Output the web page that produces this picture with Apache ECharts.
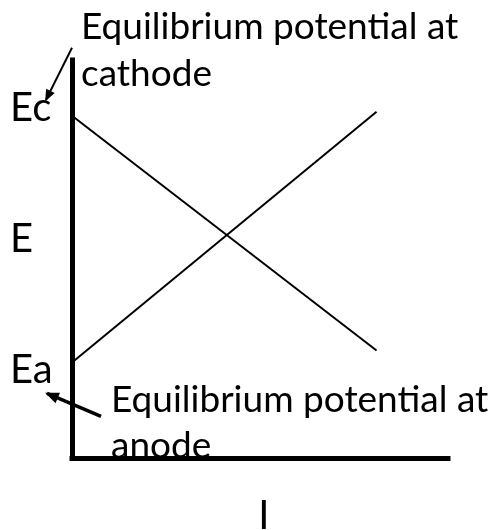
<!DOCTYPE html>
<html>
<head>
<meta charset="utf-8">
<script src="https://cdn.jsdelivr.net/npm/echarts@6/dist/echarts.min.js"></script>
<style>
  html, body { margin: 0; padding: 0; background: #fff; }
  #chart { width: 496px; height: 530px; }
</style>
</head>
<body>
<div id="chart"></div>
<script>
// Current (I) positions where each polarisation line starts and ends
const currentPoints = [0, 81];
// Cathodic line: falls from the cathode equilibrium potential
const cathodeLine = [86, 27];
// Anodic line: rises from the anode equilibrium potential
const anodeLine = [24, 87];
// Potential axis labels and their positions
const potentialTicks = [22, 55, 88];
const potentialLabels = ['Ea', 'E', 'Ec'];
// Current axis label
const currentTick = [51];
const currentLabel = 'I';
// Annotation texts
const cathodeNote = 'Equilibrium potential at\ncathode';
const anodeNote = 'Equilibrium potential at\nanode';

const FONT = 'Lato, "Open Sans", sans-serif';
const chart = echarts.init(document.getElementById('chart'), null, { renderer: 'canvas' });

const option = {
  animation: false,
  backgroundColor: '#fff',
  grid: { left: 72, right: 48, top: 60, bottom: 72, containLabel: false, outerBoundsMode: 'none' },
  xAxis: {
    type: 'value', min: 0, max: 100,
    axisLine: { show: true, lineStyle: { color: '#000', width: 5, cap: 'square' } },
    axisTick: { show: false },
    splitLine: { show: false },
    axisLabel: {
      customValues: currentTick,
      formatter: () => currentLabel,
      fontFamily: FONT, fontSize: 40, color: '#000', margin: 38
    }
  },
  yAxis: {
    type: 'value', min: 0, max: 100,
    axisLine: { show: true, lineStyle: { color: '#000', width: 5, cap: 'square' } },
    axisTick: { show: false },
    splitLine: { show: false },
    axisLabel: {
      customValues: potentialTicks,
      formatter: v => potentialLabels[potentialTicks.indexOf(v)],
      fontFamily: FONT, fontSize: 40, color: '#000', margin: 62, align: 'left'
    }
  },
  series: [
    {
      type: 'line', showSymbol: false, silent: true,
      lineStyle: { color: '#000', width: 2 },
      data: currentPoints.map((x, i) => [x, cathodeLine[i]])
    },
    {
      type: 'line', showSymbol: false, silent: true,
      lineStyle: { color: '#000', width: 2 },
      data: currentPoints.map((x, i) => [x, anodeLine[i]])
    }
  ]
};
chart.setOption(option);

// Annotations with arrows pointing at the equilibrium potential labels
const ecY = chart.convertToPixel({ yAxisIndex: 0 }, cathodeLine[0]);
const eaY = chart.convertToPixel({ yAxisIndex: 0 }, anodeLine[0]);

function arrow(x1, y1, x2, y2, w, head) {
  const ang = Math.atan2(y2 - y1, x2 - x1);
  const a1 = ang + Math.PI - 0.45, a2 = ang + Math.PI + 0.45;
  return [
    { type: 'line', shape: { x1, y1, x2, y2 }, style: { stroke: '#000', lineWidth: w } },
    { type: 'polygon', shape: { points: [
        [x2 + Math.cos(ang) * 2, y2 + Math.sin(ang) * 2],
        [x2 + Math.cos(a1) * head, y2 + Math.sin(a1) * head],
        [x2 + Math.cos(a2) * head, y2 + Math.sin(a2) * head]
      ] }, style: { fill: '#000' } }
  ];
}

chart.setOption({
  graphic: [
    { type: 'text', left: 81, top: 4, style: { text: cathodeNote, font: '37px ' + FONT, fill: '#000', lineHeight: 47 } },
    { type: 'text', left: 111, top: 377, style: { text: anodeNote, font: '37px ' + FONT, fill: '#000', lineHeight: 46 } },
    ...arrow(72, ecY - 68, 46, ecY - 16, 2, 11),
    ...arrow(101, eaY + 54, 47, eaY + 31, 3.5, 13)
  ]
});
</script>
</body>
</html>
